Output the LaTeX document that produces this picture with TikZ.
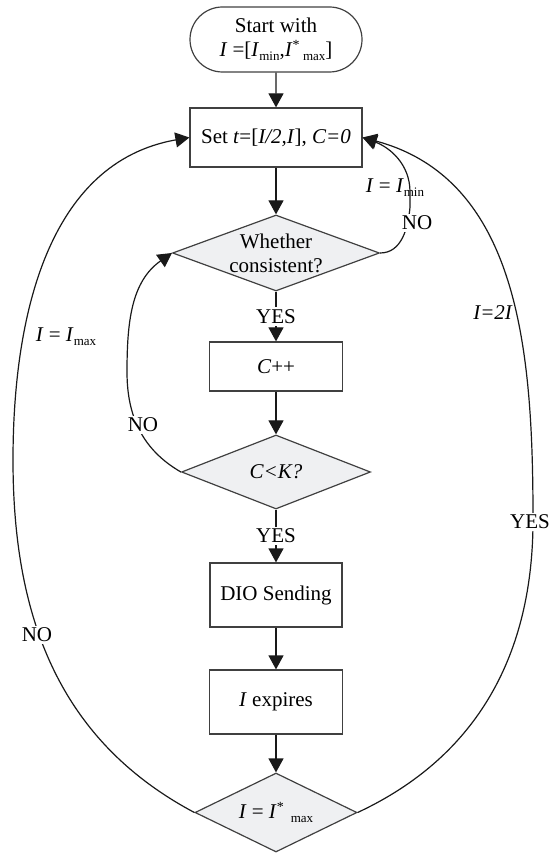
\documentclass[tikz,border=0pt]{standalone}
\usepackage{fontspec}
\setmainfont{Liberation Serif}
\usetikzlibrary{arrows.meta,shapes.geometric,shapes.misc}

\definecolor{condfill}{RGB}{239,240,242}
% small lowered index text and a raised star, as used in I_min, I*_max
\newcommand\lowtext[1]{\raisebox{-2pt}{\fontsize{6.5}{7}\selectfont #1}}
\newcommand\startext{\raisebox{3.5pt}{\fontsize{7}{7}\selectfont *}}

\tikzset{
  proc/.style={rectangle, draw=black!75, line width=0.6pt, inner sep=0pt, align=center},
  term/.style={rounded rectangle, rounded rectangle arc length=180, draw=black!75,
               line width=0.6pt, inner sep=0pt, align=center},
  cond/.style={diamond, draw=black!75, fill=condfill, line width=0.6pt,
               inner sep=-1pt, align=center},
  flow/.style={-{Triangle[length=7pt,width=7.5pt]}, line width=0.6pt, draw=black!90},
  lbl/.style={inner sep=1pt},
  cut/.style={fill=white, inner sep=1pt},
}

\begin{document}
\begin{tikzpicture}[x=0.5pt,y=-0.5pt,font=\fontsize{10.5}{12}\selectfont]
\useasboundingbox (0,0) rectangle (548,854);

% main column
\node[term, minimum width=86pt, minimum height=32.5pt] (start) at (276,39.5)
  {Start with\\ \textit{I} =[\textit{I}\lowtext{min},\textit{I}\startext\,\lowtext{max}]};
\node[proc, minimum width=86pt, minimum height=29.5pt] (set) at (276,137.5)
  {Set \textit{t}=[\textit{I/2,I}], \textit{C=0}};
\node[cond, minimum width=103.5pt, minimum height=38pt, aspect=2.72] (d1) at (276,253)
  {Whether\\consistent?};
\node[proc, minimum width=66.5pt, minimum height=24.5pt] (cpp) at (276,366.5) {\textit{C}++};
\node[cond, minimum width=94.5pt, minimum height=37pt, aspect=2.55] (d2) at (276,472)
  {\textit{C<K?}};
\node[proc, minimum width=66pt, minimum height=32pt] (dio) at (276,595) {DIO Sending};
\node[proc, minimum width=66.5pt, minimum height=32pt] (exp) at (276,702) {\textit{I} expires};
\node[cond, minimum width=81pt, minimum height=39.5pt, aspect=2.05] (d3) at (276,812.5)
  {\textit{I} = \textit{I}\startext\,\,\lowtext{max}};

\draw[flow] (start) -- (set);
\draw[flow] (set) -- (d1);
\draw[flow] (d1) -- node[cut] (yesA) {YES} (cpp);
\draw[flow] (cpp) -- (d2);
\draw[flow] (d2) -- node[cut] (yesB) {YES} (dio);
\draw[flow] (dio) -- (exp);
\draw[flow] (exp) -- (d3);

% inconsistent: back to the interval start
\node[lbl] (lmin) at (395,188) {\textit{I} = \textit{I}\lowtext{min}};
\draw[flow] (d1.east) to[out=0,in=-95] (410,207) -- (410,192) to[out=90,in=-20] (set.east);
\node[cut] (noA) at (417,223) {NO};

% counter below K: check consistency again
\draw[flow] (d2.west) to[out=150,in=-90] (127,372) to[out=90,in=-145] (d1.west);
\node[cut] (noB) at (143,425) {NO};

% interval not at its maximum: keep I_max
\node[lbl] (lmax) at (66,337) {\textit{I} = \textit{I}\lowtext{max}};
\draw[flow] (d3.west) to[out=152,in=-90] (13,460) to[out=90,in=-170] (set.west);
\node[cut] (noC) at (37,635) {NO};

% doubling branch
\node[lbl] (ldbl) at (493,313) {\textit{I=2I}};
\draw[flow] (d3.east) to[out=25,in=-90] (533,520) to[out=90,in=-15] (set.east);
\node[cut] (yesR) at (530,522) {YES};
\end{tikzpicture}
\end{document}
